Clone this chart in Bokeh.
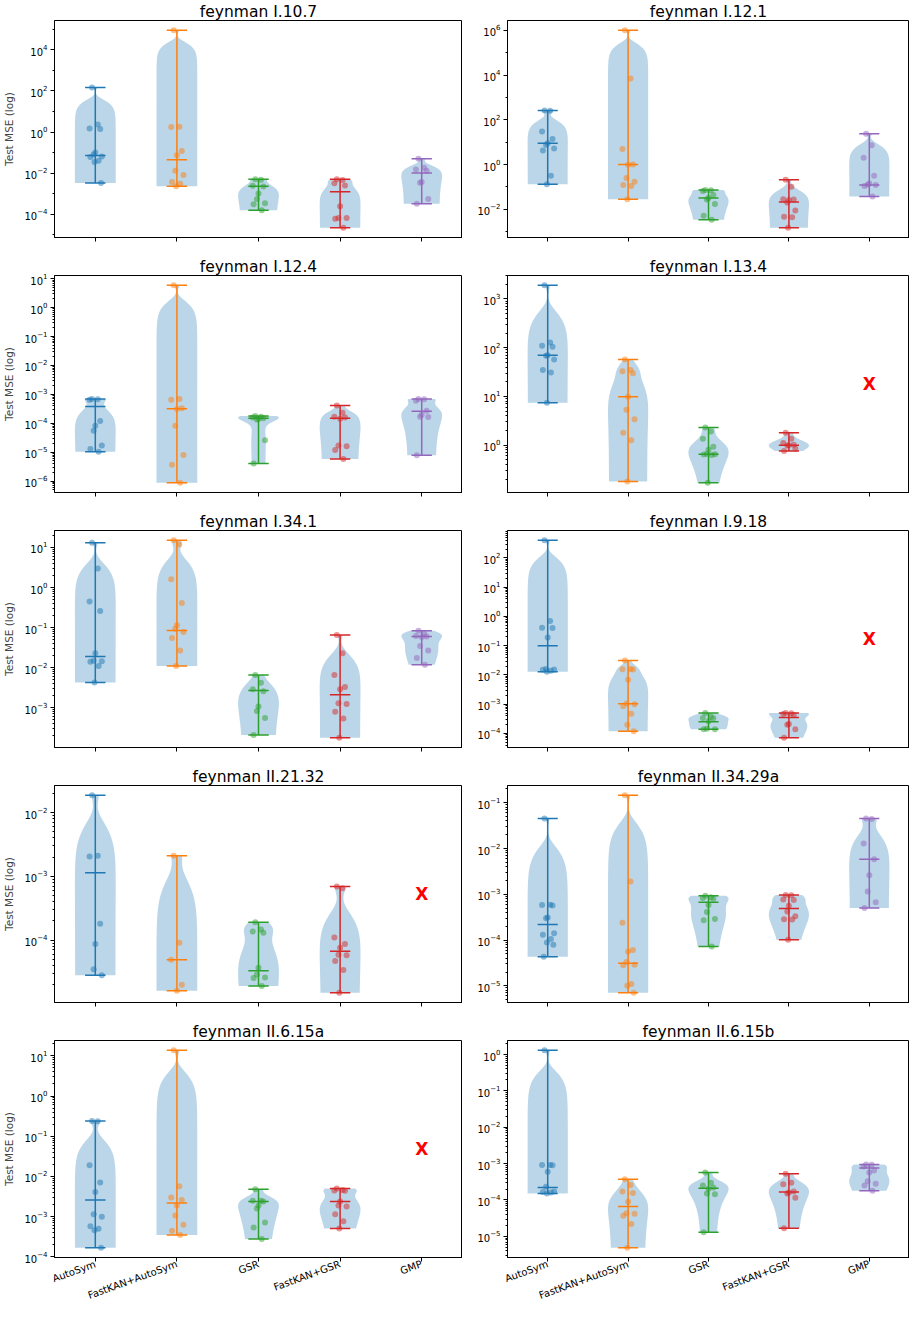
import math
import numpy as np
from bokeh.plotting import figure
from bokeh.layouts import column, row
from bokeh.models import Range1d, FixedTicker, LogTickFormatter
from bokeh.embed import file_html
from bokeh.resources import INLINE
from bokeh.core.properties import value

METHODS = ["AutoSym", "FastKAN+AutoSym", "GSR", "FastKAN+GSR", "GMP"]
COLORS = ["#1f77b4", "#ff7f0e", "#2ca02c", "#d62728", "#9467bd"]
FONT = "DejaVu Sans"

# ---- data: test MSE per seed, per method (AutoSym, FastKAN+AutoSym, GSR, FastKAN+GSR, GMP) ----
I_10_7 = [
    [150, 2.3, 1.5, 1.4, 0.1, 0.08, 0.065, 0.06, 0.04, 0.035, 0.0033],
    [9e4, 1.8, 1.75, 0.12, 0.075, 0.013, 0.008, 0.0037, 0.003, 0.0023],
    [5e-3, 4.8e-3, 2.4e-3, 2.2e-3, 1e-3, 5.4e-4, 3.4e-4, 3e-4, 1.55e-4],
    [5e-3, 4.6e-3, 3.2e-3, 2.5e-3, 2.4e-4, 6.5e-5, 6.5e-5, 6e-5, 2.2e-5],
    [0.05, 0.018, 0.015, 0.013, 0.0037, 0.0034, 0.00054, 0.00032],
]
I_10_7_MED = [0.072, 0.045, 2.3e-3, 1.25e-3, 0.01]
I_10_7_EXP = [-4, -2, 0, 2, 4]

I_12_1 = [
    [260, 255, 30, 14, 9, 7.5, 5.2, 4.2, 0.31, 0.13],
    [1e6, 7000, 5, 1.0, 0.98, 0.25, 0.17, 0.12, 0.11, 0.028],
    [0.072, 0.07, 0.065, 0.043, 0.032, 0.027, 0.017, 0.0051, 0.0034],
    [0.21, 0.1, 0.028, 0.027, 0.026, 0.02, 0.0087, 0.0046, 0.0044, 0.0015],
    [24, 7.3, 2.0, 0.31, 0.14, 0.125, 0.12, 0.11, 0.037],
]
I_12_1_MED = [9, 1, 0.032, 0.021, 0.12]
I_12_1_EXP = [-2, 0, 2, 4, 6]

I_12_4 = [
    [7e-4, 6.8e-4, 6.5e-4, 1.2e-4, 8.3e-5, 5.5e-5, 1.7e-5, 1.3e-5, 1.05e-5],
    [5.9, 7e-4, 6.5e-4, 3.3e-4, 3.1e-4, 8.3e-5, 8e-6, 3.7e-6, 8.9e-7],
    [1.8e-4, 1.7e-4, 1.6e-4, 1.5e-4, 1.4e-4, 1.35e-4, 2.6e-5, 4.1e-6],
    [4.1e-4, 2.3e-4, 1.7e-4, 1.6e-4, 1.45e-4, 1.7e-5, 1.6e-5, 1.2e-5, 5.9e-6],
    [7e-4, 6.8e-4, 6e-4, 2.7e-4, 2e-4, 1.7e-4, 1.65e-4, 7.9e-6],
]
I_12_4_MED = [3.8e-4, 3.2e-4, 1.5e-4, 1.5e-4, 2.6e-4]
I_12_4_EXP = [-6, -5, -4, -3, -2, -1, 0, 1]

I_13_4 = [
    [1900, 128, 110, 105, 70, 68, 57, 35, 31, 7.4],
    [57, 35, 33, 30, 9.8, 5.3, 3.4, 1.8, 1.26, 0.18],
    [2.3, 1.9, 1.36, 0.93, 0.8, 0.66, 0.65, 0.64, 0.63, 0.17],
    [1.8, 1.35, 1.1, 1.02, 1.0, 0.98, 0.85, 0.76],
    [],
]
I_13_4_MED = [70, 9.8, 0.65, 1.0, None]
I_13_4_EXP = [0, 1, 2, 3]

I_34_1 = [
    [13, 3.0, 0.45, 0.26, 0.023, 0.015, 0.0145, 0.014, 0.011, 0.0043],
    [15, 11.8, 1.6, 0.41, 0.115, 0.093, 0.078, 0.055, 0.027, 0.011],
    [0.0066, 0.0042, 0.0029, 0.0026, 0.00107, 0.00083, 5.6e-4, 2.1e-4],
    [0.065, 0.023, 0.0066, 0.0033, 0.0029, 0.0013, 0.00125, 8e-4, 5.4e-4, 1.8e-4],
    [0.083, 0.07, 0.062, 0.06, 0.058, 0.035, 0.027, 0.0174, 0.0118],
]
I_34_1_MED = [0.019, 0.085, 0.0027, 0.0021, 0.06]
I_34_1_EXP = [-3, -2, -1, 0, 1]

I_9_18 = [
    [400, 0.7, 0.41, 0.4, 0.19, 0.016, 0.0155, 0.015, 0.014, 0.013],
    [0.031, 0.016, 0.0158, 0.0155, 0.0069, 0.00105, 0.001, 8.6e-4, 4.7e-4, 2e-4, 1.2e-4],
    [5e-4, 3.7e-4, 3.4e-4, 3.3e-4, 2.6e-4, 1.45e-4, 1.4e-4, 1.38e-4],
    [5e-4, 4.9e-4, 4.6e-4, 4.3e-4, 2.1e-4, 2e-4, 1.4e-4, 7.2e-5],
    [],
]
I_9_18_MED = [0.1, 0.00103, 2.5e-4, 3.5e-4, None]
I_9_18_EXP = [-4, -3, -2, -1, 0, 1, 2]

II_21_32 = [
    [0.0186, 0.0021, 0.00205, 1.8e-4, 8.7e-5, 3.5e-5, 2.8e-5],
    [0.0021, 9.1e-5, 4.9e-5, 2e-5, 1.6e-5],
    [1.9e-4, 1.47e-4, 1.37e-4, 1.3e-4, 3.7e-5, 2.9e-5, 2.6e-5, 2.55e-5, 1.9e-5],
    [6.9e-4, 6.5e-4, 1.1e-4, 8.7e-5, 7.6e-5, 5.9e-5, 5.8e-5, 4.7e-5, 3.4e-5, 1.5e-5],
    [],
]
II_21_32_MED = [0.00114, 4.9e-5, 3.3e-5, 6.7e-5, None]
II_21_32_EXP = [-4, -3, -2]

II_34_29A = [
    [0.045, 5.9e-4, 5.8e-4, 5.7e-4, 3.1e-4, 3.0e-4, 1.4e-4, 1.3e-4, 1.05e-4, 8.9e-5, 7.9e-5, 4.3e-5],
    [0.145, 0.0019, 2.4e-4, 6.1e-5, 5.6e-5, 3.3e-5, 2.9e-5, 2.8e-5, 1.1e-5, 1e-5, 7.1e-6],
    [9.3e-4, 8.6e-4, 8.3e-4, 8e-4, 5.8e-4, 4.1e-4, 2.9e-4, 2.7e-4, 7.2e-5],
    [9.7e-4, 9.5e-4, 7.7e-4, 7.5e-4, 5.6e-4, 4.2e-4, 3.3e-4, 2.85e-4, 2.8e-4, 1.02e-4],
    [0.045, 0.044, 0.0129, 0.0058, 0.0026, 0.00115, 6.7e-4, 5e-4],
]
II_34_29A_MED = [2.2e-4, 3.1e-5, 6.7e-4, 4.9e-4, 0.0058]
II_34_29A_EXP = [-5, -4, -3, -2, -1]

II_6_15A = [
    [0.24, 0.235, 0.019, 0.0071, 0.0041, 0.00115, 0.001, 5.8e-4, 5e-4, 4.6e-4, 1.7e-4],
    [13.7, 0.0057, 0.003, 0.0026, 0.0019, 0.00107, 6.3e-4, 4.5e-4, 3.5e-4],
    [0.0048, 0.0025, 0.0025, 0.0024, 0.0019, 0.0016, 7.2e-4, 5.4e-4, 2.8e-4],
    [0.005, 0.0046, 0.0045, 0.0044, 0.0024, 0.0019, 0.0018, 0.00115, 7.7e-4, 5.1e-4],
    [],
]
II_6_15A_MED = [0.0026, 0.0022, 0.0024, 0.0024, None]
II_6_15A_EXP = [-4, -3, -2, -1, 0, 1]

II_6_15B = [
    [1.3, 9.2e-4, 9.1e-4, 9e-4, 6e-4, 2.3e-4, 1.7e-4, 1.65e-4, 1.6e-4, 1.5e-4],
    [3.7e-4, 2.6e-4, 1.7e-4, 1.55e-4, 9e-5, 4.3e-5, 4.2e-5, 3.7e-5, 2.2e-5, 4.9e-6],
    [5.7e-4, 3e-4, 2.5e-4, 2.2e-4, 2.05e-4, 1.5e-4, 1.45e-4, 1.3e-5],
    [5.3e-4, 3e-4, 2.7e-4, 1.7e-4, 1.6e-4, 1.5e-4, 1.15e-4, 1.66e-5],
    [9.5e-4, 9.3e-4, 8.3e-4, 6.5e-4, 5.7e-4, 3.3e-4, 2.8e-4, 2.5e-4, 1.8e-4],
]
II_6_15B_MED = [2.2e-4, 6.6e-5, 2.1e-4, 1.66e-4, 7.6e-4]
II_6_15B_EXP = [-5, -4, -3, -2, -1, 0]

TITLES = ["feynman I.10.7", "feynman I.12.1", "feynman I.12.4", "feynman I.13.4",
          "feynman I.34.1", "feynman I.9.18", "feynman II.21.32", "feynman II.34.29a",
          "feynman II.6.15a", "feynman II.6.15b"]

# fixed horizontal jitter offsets for the seed points (position only)
JITTER = [-0.04, 0.03, -0.07, 0.06, 0.0, -0.02, 0.08, -0.06, 0.04, -0.01, 0.07, -0.05]

PANELS = [
    (TITLES[0], I_10_7, I_10_7_MED, I_10_7_EXP),
    (TITLES[1], I_12_1, I_12_1_MED, I_12_1_EXP),
    (TITLES[2], I_12_4, I_12_4_MED, I_12_4_EXP),
    (TITLES[3], I_13_4, I_13_4_MED, I_13_4_EXP),
    (TITLES[4], I_34_1, I_34_1_MED, I_34_1_EXP),
    (TITLES[5], I_9_18, I_9_18_MED, I_9_18_EXP),
    (TITLES[6], II_21_32, II_21_32_MED, II_21_32_EXP),
    (TITLES[7], II_34_29A, II_34_29A_MED, II_34_29A_EXP),
    (TITLES[8], II_6_15A, II_6_15A_MED, II_6_15A_EXP),
    (TITLES[9], II_6_15B, II_6_15B_MED, II_6_15B_EXP),
]


def kde_shape(vals, half_width=0.25, npts=100):
    # Gaussian KDE (Scott's rule) on the raw values, evaluated min..max,
    # scaled so the widest point has the given half width.
    d = np.asarray(vals, dtype=float)
    n = len(d)
    sd = np.std(d, ddof=1)
    bw = sd * n ** (-1.0 / 5.0)
    grid = np.linspace(d.min(), d.max(), npts)
    dens = np.exp(-0.5 * ((grid[:, None] - d[None, :]) / bw) ** 2).sum(axis=1)
    dens = dens / dens.max() * half_width
    return grid, dens


def build(i, title, pts, med, exps):
    left = (i % 2 == 0)
    bottom = (i >= 8)
    allv = [v for s in pts for v in s]
    lo, hi = math.log10(min(allv)), math.log10(max(allv))
    pad = 0.05 * (hi - lo)
    ylo, yhi = lo - pad, hi + pad

    p = figure(frame_width=408 if left else 402, frame_height=217,
               y_axis_type="log",
               x_range=Range1d(0.5, 5.5),
               y_range=Range1d(10 ** ylo, 10 ** yhi),
               output_backend="svg", toolbar_location=None,
               min_border_left=47 if left else 45,
               min_border_right=0,
               min_border_top=20,
               min_border_bottom=18,
               title=title)
    p.title.align = "center"
    p.title.text_font = FONT
    p.title.text_font_size = "15.5px"
    p.title.text_font_style = "normal"
    p.title.text_color = "black"
    p.title.standoff = 0
    p.title.offset = 0
    p.xgrid.visible = False
    p.ygrid.visible = False
    p.outline_line_color = "black"
    p.outline_line_alpha = 1.0
    p.background_fill_color = "white"

    # violins
    for j, s in enumerate(pts):
        if not s:
            continue
        grid, dens = kde_shape(s)
        xs = np.concatenate([(j + 1) - dens, ((j + 1) + dens)[::-1]])
        ys = np.concatenate([grid, grid[::-1]])
        p.patch(xs, ys, fill_color="#1f77b4", fill_alpha=0.3, line_alpha=0)

    # points
    for j, s in enumerate(pts):
        if not s:
            continue
        xs = [(j + 1) + JITTER[k % len(JITTER)] for k in range(len(s))]
        p.scatter(xs, s, size=6, fill_color=COLORS[j], fill_alpha=0.5,
                  line_color=COLORS[j], line_alpha=0.0)

    # min / max / median bars
    x0, y0, x1, y1, cols = [], [], [], [], []
    for j, s in enumerate(pts):
        if not s:
            continue
        c = j + 1
        mn, mx = min(s), max(s)
        for yv in (mn, mx, med[j]):
            x0.append(c - 0.125); x1.append(c + 0.125); y0.append(yv); y1.append(yv); cols.append(COLORS[j])
        x0.append(c); x1.append(c); y0.append(mn); y1.append(mx); cols.append(COLORS[j])
    p.segment(x0, y0, x1, y1, line_color=cols, line_width=1.5)

    # missing method marker
    for j, s in enumerate(pts):
        if not s:
            p.text(x=[j + 1], y=[10 ** ((ylo + yhi) / 2)], text=["X"],
                   text_color="red", text_font=value(FONT), text_font_style="bold",
                   text_font_size="17px", text_align="center", text_baseline="middle")

    # y axis
    majors = [10.0 ** e for e in exps]
    if len(exps) > 1 and exps[1] - exps[0] == 2:
        minors = [10.0 ** e for e in range(int(math.floor(ylo)), int(math.ceil(yhi)) + 1) if e % 2 != exps[0] % 2]
    else:
        minors = [m * 10.0 ** e for e in range(int(math.floor(ylo)) - 1, int(math.ceil(yhi)) + 1) for m in range(2, 10)]
    minors = [m for m in minors if 10 ** ylo <= m <= 10 ** yhi]
    p.yaxis.ticker = FixedTicker(ticks=majors, minor_ticks=minors)
    p.yaxis.formatter = LogTickFormatter()
    p.xaxis.ticker = FixedTicker(ticks=[1, 2, 3, 4, 5], minor_ticks=[])

    for ax in p.axis:
        ax.axis_line_color = "black"
        ax.major_tick_line_color = "black"
        ax.major_tick_out = 4
        ax.major_tick_in = 0
        ax.minor_tick_out = 2
        ax.minor_tick_in = 0
        ax.major_label_text_font = FONT
        ax.major_label_text_font_size = "10px"
        ax.major_label_text_color = "black"
        ax.major_label_standoff = 3
    p.xaxis.minor_tick_line_color = None

    if left:
        p.yaxis.axis_label = "Test MSE (log)"
        p.yaxis.axis_label_text_font = FONT
        p.yaxis.axis_label_text_font_size = "10.5px"
        p.yaxis.axis_label_text_font_style = "normal"
        p.yaxis.axis_label_standoff = 6

    if bottom:
        p.xaxis.major_label_overrides = {k + 1: m for k, m in enumerate(METHODS)}
        p.xaxis.major_label_orientation = math.radians(20)
        p.xaxis.major_label_standoff = 2
    else:
        p.xaxis.major_label_overrides = {k + 1: "" for k in range(5)}
        p.xaxis.major_label_text_font_size = "0px"
    return p


figs = [build(i, *panel) for i, panel in enumerate(PANELS)]
layout = column(*[row(figs[2 * k], figs[2 * k + 1]) for k in range(5)])

open("out.html", "w").write(file_html(layout, INLINE))
